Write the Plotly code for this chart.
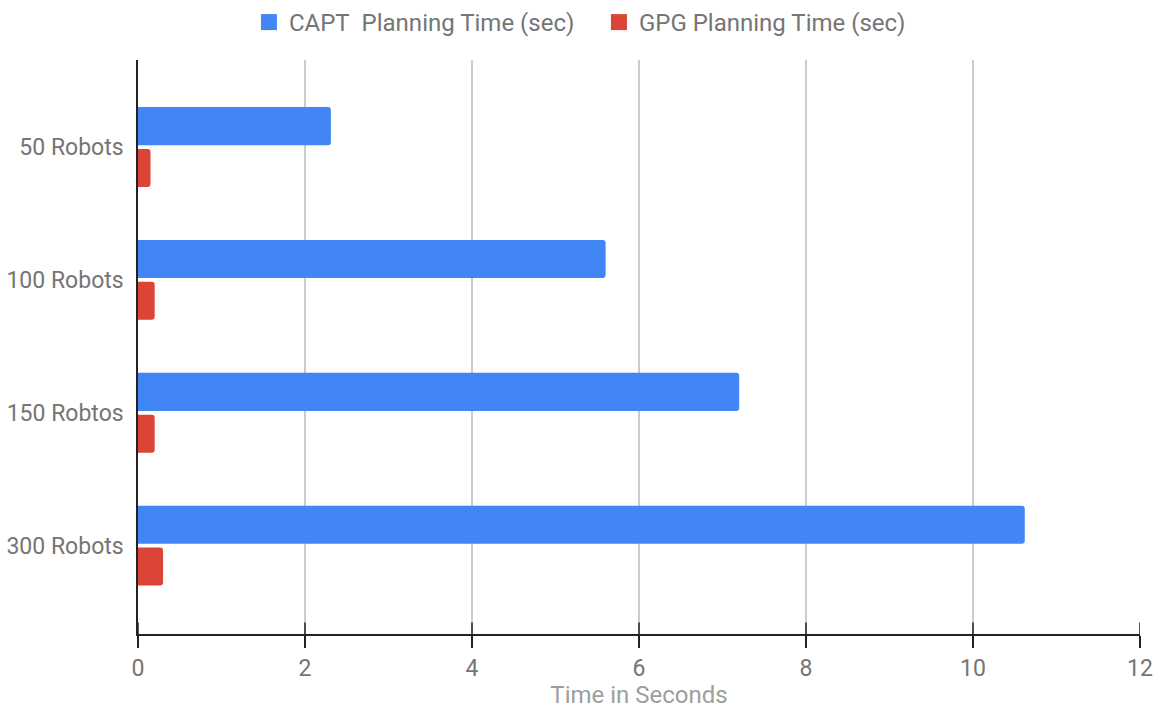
import plotly.graph_objects as go

categories = ["50 Robots", "100 Robots", "150 Robtos", "300 Robots"]
capt_times = [2.31, 5.6, 7.2, 10.62]
gpg_times = [0.15, 0.2, 0.2, 0.3]
x_ticks = [0, 2, 4, 6, 8, 10, 12]
series_names = ["CAPT\u00a0 Planning Time (sec)", "GPG Planning Time (sec)"]

BLUE = "#4285F4"
RED = "#DB4437"
TEXT = "#757575"
FONT = "Roboto, Arial, sans-serif"

fig = go.Figure()
fig.add_trace(go.Bar(
    name=series_names[0], y=categories, x=capt_times, showlegend=False,
    orientation="h", marker=dict(color=BLUE, line=dict(width=0)),
))
fig.add_trace(go.Bar(
    name=series_names[1], y=categories, x=gpg_times, showlegend=False,
    orientation="h", marker=dict(color=RED, line=dict(width=0)),
))
# legend entries with larger square swatches
for name, color in zip(series_names, [BLUE, RED]):
    fig.add_trace(go.Scatter(
        name=name, x=[None], y=[None], mode="markers",
        marker=dict(symbol="square", size=22, color=color, line=dict(width=0)),
    ))

# short tick stubs above the x axis line, so ticks cross the line
for v in x_ticks:
    fig.add_shape(type="line", xref="x", yref="paper", x0=v, x1=v, y0=0, y1=0.02,
                  line=dict(color="#222222", width=1.5), layer="above")

fig.update_layout(
    width=1163, height=709,
    margin=dict(l=138, r=23, t=60, b=75),
    paper_bgcolor="white", plot_bgcolor="white",
    barmode="group", bargap=0.37, bargroupgap=0.09, barcornerradius=3,
    font=dict(family=FONT, size=23, color=TEXT),
    legend=dict(orientation="h", xref="container", yref="container",
                x=0.515, xanchor="center", y=1.0, yanchor="top",
                font=dict(size=24, color=TEXT), itemwidth=30,
                entrywidth=305, traceorder="normal"),
    xaxis=dict(
        range=[0, 12], tickvals=x_ticks, ticks="outside", ticklen=12,
        tickwidth=1.5, tickcolor="#222222", automargin=False,
        showgrid=True, gridcolor="#CCCCCC", gridwidth=1.5,
        showline=True, linecolor="#222222", linewidth=2,
        zeroline=False,
        tickfont=dict(size=23, color=TEXT),
        title=dict(text="Time in Seconds", font=dict(size=24, color="#9E9E9E"), standoff=6),
    ),
    yaxis=dict(
        type="category", categoryorder="array", categoryarray=categories,
        range=[3.665, -0.655], showgrid=False, zeroline=False,
        showline=True, linecolor="#222222", linewidth=1.5,
        ticks="", ticklabelstandoff=8, automargin=False,
        tickfont=dict(size=23, color=TEXT),
    ),
)

fig.write_html("out.html")
